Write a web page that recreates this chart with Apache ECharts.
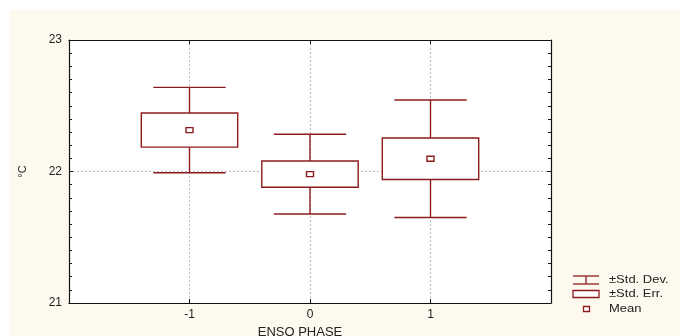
<!DOCTYPE html>
<html>
<head>
<meta charset="utf-8">
<script src="https://cdn.jsdelivr.net/npm/echarts@6/dist/echarts.min.js"></script>
<style>
  html, body { margin: 0; padding: 0; background: #ffffff; }
  #chart { width: 680px; height: 336px; }
</style>
</head>
<body>
<div id="chart"></div>
<script>
// ENSO phase vs. temperature: mean, ±standard error box, ±standard deviation whiskers
const phases = [-1, 0, 1];
const means = [22.315, 21.98, 22.097];
const stdDev = [0.325, 0.303, 0.447];
const stdErr = [0.13, 0.10, 0.158];
const phaseTickLabels = ['-1', '0', '1'];
const tempTicks = [21, 22, 23];
const tempTickLabels = ['21', '22', '23'];

const RED = '#8c1c1c';
const FONT = 'Liberation Sans';
const TXT = '#222222';

const chart = echarts.init(document.getElementById('chart'), null, { renderer: 'canvas' });

const seriesData = phases.map((p, i) => [p, means[i], stdDev[i], stdErr[i]]);

function renderBox(params, api) {
  const x = api.value(0), m = api.value(1), sd = api.value(2), se = api.value(3);
  const c = api.coord([x, m]);
  const top = api.coord([x, m + sd]);
  const bot = api.coord([x, m - sd]);
  const capL = api.coord([x - 0.3, m])[0];
  const capR = api.coord([x + 0.3, m])[0];
  const bTL = api.coord([x - 0.4, m + se]);
  const bBR = api.coord([x + 0.4, m - se]);
  const st = { stroke: RED, lineWidth: 1.4 };
  return {
    type: 'group',
    children: [
      { type: 'line', shape: { x1: c[0], y1: top[1], x2: c[0], y2: bot[1] }, style: st },
      { type: 'line', shape: { x1: capL, y1: top[1], x2: capR, y2: top[1] }, style: st },
      { type: 'line', shape: { x1: capL, y1: bot[1], x2: capR, y2: bot[1] }, style: st },
      { type: 'rect', shape: { x: bTL[0], y: bTL[1], width: bBR[0] - bTL[0], height: bBR[1] - bTL[1] },
        style: { fill: '#ffffff', stroke: RED, lineWidth: 1.4 } },
      { type: 'rect', shape: { x: c[0] - 3.5, y: c[1] - 2.5, width: 7, height: 5 },
        style: { fill: '#ffffff', stroke: RED, lineWidth: 1.4 } }
    ]
  };
}

const dashed = { show: true, lineStyle: { color: '#bbbbbb', type: [2, 2], width: 1 } };
const frameLine = { show: true, onZero: false, lineStyle: { color: '#111', width: 1.2 } };
const inTick = { show: true, inside: true, length: 4, lineStyle: { color: '#111' } };
const inMinor = { show: true, splitNumber: 10, length: 3, lineStyle: { color: '#111' } };

function phaseLabel(v) {
  const i = phases.indexOf(v);
  return i >= 0 ? phaseTickLabels[i] : '';
}
function tempLabel(v) {
  const i = tempTicks.indexOf(v);
  return i >= 0 ? tempTickLabels[i] : '';
}

const legendX = 573, legendTextX = 609;
const legendText = (label, y) => ({
  type: 'text', x: legendTextX, y: y, scaleX: 1.18,
  style: { text: label, fontFamily: FONT, fontSize: 11, fill: TXT, verticalAlign: 'middle' }
});

chart.setOption({
  backgroundColor: '#fef9ee',
  animation: false,
  grid: {
    left: 69, right: 129, top: 40, bottom: 33,
    outerBoundsMode: 'none', containLabel: false,
    show: true, backgroundColor: '#ffffff', borderWidth: 0
  },
  xAxis: [
    {
      type: 'value', min: -2, max: 2, interval: 1, position: 'bottom',
      name: 'ENSO PHASE', nameLocation: 'middle', nameGap: 21,
      nameTextStyle: { fontFamily: FONT, fontSize: 13, color: TXT, padding: [0, 20, 0, 0] },
      axisLine: frameLine,
      axisTick: inTick,
      axisLabel: { formatter: phaseLabel, fontFamily: FONT, fontSize: 12, color: TXT, margin: 6 },
      splitLine: dashed
    },
    {
      type: 'value', min: -2, max: 2, interval: 1, position: 'top',
      axisLine: frameLine,
      axisTick: inTick,
      axisLabel: { show: false },
      splitLine: { show: false }
    }
  ],
  yAxis: [
    {
      type: 'value', min: 21, max: 23, interval: 1, position: 'left',
      name: '°C', nameLocation: 'middle', nameGap: 41, nameRotate: 90,
      nameTextStyle: { fontFamily: FONT, fontSize: 11, color: TXT },
      axisLine: frameLine,
      axisTick: inTick,
      minorTick: inMinor,
      axisLabel: { formatter: tempLabel, fontFamily: FONT, fontSize: 12, color: TXT, margin: 7 },
      splitLine: dashed
    },
    {
      type: 'value', min: 21, max: 23, interval: 1, position: 'right',
      axisLine: frameLine,
      axisTick: inTick,
      minorTick: inMinor,
      axisLabel: { show: false },
      splitLine: { show: false }
    }
  ],
  series: [
    {
      type: 'custom',
      xAxisIndex: 0, yAxisIndex: 0,
      renderItem: renderBox,
      data: seriesData,
      clip: false,
      z: 5
    }
  ],
  graphic: [
    // white margin strips at the top and left edges
    { type: 'rect', left: 0, top: 0, shape: { width: 680, height: 10 }, style: { fill: '#ffffff' }, silent: true, z: -10 },
    { type: 'rect', left: 0, top: 0, shape: { width: 10, height: 336 }, style: { fill: '#ffffff' }, silent: true, z: -10 },
    // legend: ±Std. Dev.
    { type: 'line', shape: { x1: legendX, y1: 276, x2: legendX + 26, y2: 276 }, style: { stroke: RED, lineWidth: 1.3 } },
    { type: 'line', shape: { x1: legendX, y1: 284, x2: legendX + 26, y2: 284 }, style: { stroke: RED, lineWidth: 1.3 } },
    { type: 'line', shape: { x1: legendX + 13, y1: 276, x2: legendX + 13, y2: 284 }, style: { stroke: RED, lineWidth: 1.3 } },
    legendText('±Std. Dev.', 280),
    // legend: ±Std. Err.
    { type: 'rect', shape: { x: legendX, y: 290.5, width: 26, height: 7 }, style: { fill: '#ffffff', stroke: RED, lineWidth: 1.3 } },
    legendText('±Std. Err.', 294),
    // legend: Mean
    { type: 'rect', shape: { x: 583.5, y: 306.5, width: 6, height: 5 }, style: { fill: '#ffffff', stroke: RED, lineWidth: 1.3 } },
    legendText('Mean', 309)
  ]
});
</script>
</body>
</html>
